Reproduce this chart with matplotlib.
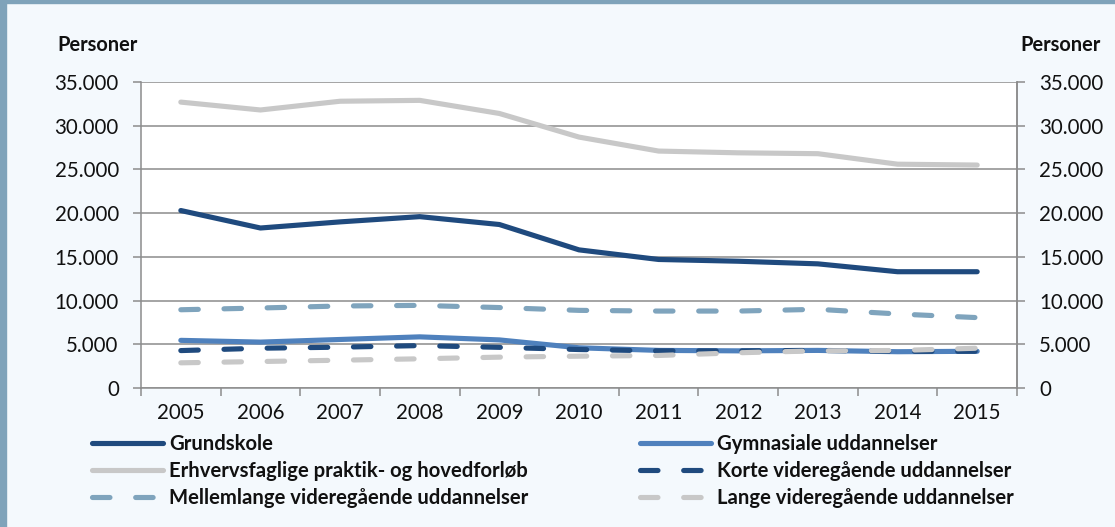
import matplotlib
matplotlib.use("Agg")
import matplotlib.pyplot as plt
from matplotlib.ticker import FuncFormatter, FixedLocator, NullFormatter
from matplotlib.patches import Rectangle

plt.rcParams['font.family'] = ['Lato', 'DejaVu Sans']

years = ['2005', '2006', '2007', '2008', '2009', '2010', '2011', '2012', '2013', '2014', '2015']
grundskole = [20300, 18300, 19000, 19600, 18700, 15800, 14700, 14500, 14200, 13300, 13300]
gymnasiale = [5450, 5250, 5550, 5850, 5500, 4600, 4300, 4250, 4300, 4150, 4200]
erhverv = [32700, 31800, 32800, 32900, 31400, 28700, 27100, 26900, 26800, 25600, 25500]
korte = [4280, 4550, 4670, 4850, 4650, 4400, 4250, 4250, 4300, 4200, 4200]
mellemlange = [8950, 9150, 9380, 9450, 9200, 8880, 8800, 8800, 9000, 8470, 8050]
lange = [2880, 3030, 3180, 3340, 3530, 3640, 3720, 4030, 4250, 4290, 4550]
labels = ['Grundskole', 'Gymnasiale uddannelser', 'Erhvervsfaglige praktik- og hovedforløb',
          'Korte videregående uddannelser', 'Mellemlange videregående uddannelser',
          'Lange videregående uddannelser']
yticks = [0, 5000, 10000, 15000, 20000, 25000, 30000, 35000]

W, H = 1115, 527
fig = plt.figure(figsize=(W / 100, H / 100), dpi=100)
fig.patch.set_facecolor('#f4f9fd')
renderer = fig.canvas.get_renderer()


def fit_size(s, target_px, weight='normal', base=12.0):
    t = fig.text(0, 0, s, fontsize=base, fontweight=weight)
    w = t.get_window_extent(renderer).width
    t.remove()
    return base * target_px / w


tfs = fit_size('2009', 47.5)
pfs = fit_size('Personer', 80, 'bold')
fs = fit_size(labels[2], 356, 'bold')

# border bands (top and left)
fig.patches.append(Rectangle((0, 1 - 3 / H), 1, 3 / H, transform=fig.transFigure,
                             color='#7fa3ba', zorder=0))
fig.patches.append(Rectangle((0, 0), 6 / W, 1, transform=fig.transFigure,
                             color='#7fa3ba', zorder=0))

ax = fig.add_axes([141 / W, (H - 388) / H, 876 / W, 306 / H])
ax.set_facecolor('white')

c_navy = '#1f4a7e'
c_blue = '#4f81bd'
c_gray = '#c8c8c8'
c_steel = '#7fa4bd'
lw = 3.7
dash = (3.4, 5.0)
x = list(range(len(years)))

l1, = ax.plot(x, grundskole, color=c_navy, lw=lw, solid_capstyle='round', solid_joinstyle='round', zorder=3)
l2, = ax.plot(x, gymnasiale, color=c_blue, lw=lw, solid_capstyle='round', solid_joinstyle='round', zorder=3)
l3, = ax.plot(x, erhverv, color=c_gray, lw=lw, solid_capstyle='round', solid_joinstyle='round', zorder=3)
l4, = ax.plot(x, korte, color=c_navy, lw=lw, dashes=dash, dash_capstyle='round', zorder=3)
l5, = ax.plot(x, mellemlange, color=c_steel, lw=lw, dashes=dash, dash_capstyle='round', zorder=3)
l6, = ax.plot(x, lange, color=c_gray, lw=lw, dashes=dash, dash_capstyle='round', zorder=3)

ax.set_xlim(-0.5, len(years) - 0.5)
ax.set_ylim(0, 35000)

fmt = FuncFormatter(lambda v, p: f"{int(v):,}".replace(',', '.'))
grid_c = '#8c8c8c'
ax.set_yticks(yticks)
ax.yaxis.set_major_formatter(fmt)
ax.grid(axis='y', color=grid_c, lw=1.1, zorder=1)
ax.set_axisbelow(True)

ax.xaxis.set_major_locator(FixedLocator([i - 0.5 for i in range(len(years) + 1)]))
ax.xaxis.set_major_formatter(NullFormatter())
ax.xaxis.set_minor_locator(FixedLocator(x))
ax.set_xticklabels(years, minor=True)
ax.tick_params(axis='x', which='major', length=6, width=1.1, color=grid_c, direction='out')
ax.tick_params(axis='x', which='minor', length=0, pad=11, labelsize=tfs, labelcolor='#111111')
ax.tick_params(axis='y', length=6, width=1.1, color=grid_c, labelsize=tfs, labelcolor='#111111', pad=10)

for s in ['left', 'right', 'bottom']:
    ax.spines[s].set_color(grid_c)
    ax.spines[s].set_linewidth(1.1)
ax.spines['top'].set_visible(False)

ax2 = ax.twinx()
ax2.set_ylim(0, 35000)
ax2.set_yticks(yticks)
ax2.yaxis.set_major_formatter(fmt)
ax2.tick_params(axis='y', length=6, width=1.1, color=grid_c, labelsize=tfs, labelcolor='#111111', pad=10)
for s in ['left', 'right', 'bottom', 'top']:
    ax2.spines[s].set_visible(False)
ax2.spines['right'].set_visible(True)
ax2.spines['right'].set_color(grid_c)
ax2.spines['right'].set_linewidth(1.1)

fig.text(57 / W, 1 - 45 / H, 'Personer', ha='left', va='center', fontsize=pfs, fontweight='bold', color='#111111')
fig.text(1020 / W, 1 - 45 / H, 'Personer', ha='left', va='center', fontsize=pfs, fontweight='bold', color='#111111')

# legend geometry: rows centred at y=444, 471, 498 px, handle 71 px, text at +6 px
fs_px = fs * 100 / 72
tmp = fig.text(0, 0, labels[2], fontsize=fs, fontweight='bold')
th = tmp.get_window_extent(renderer).height
tmp.remove()
row_gap = 27.0
legkw = dict(frameon=False, handlelength=71 / fs_px, handletextpad=6 / fs_px,
             labelspacing=(row_gap - th) / fs_px, borderpad=0, borderaxespad=0,
             prop={'weight': 'bold', 'size': fs})
top = 444 - th / 2
leg1 = fig.legend([l1, l3, l5], [labels[0], labels[2], labels[4]], loc='upper left',
                  bbox_to_anchor=(92 / W, 1 - top / H), **legkw)
leg2 = fig.legend([l2, l4, l6], [labels[1], labels[3], labels[5]], loc='upper left',
                  bbox_to_anchor=(640 / W, 1 - top / H), **legkw)
for lg in (leg1, leg2):
    for t in lg.get_texts():
        t.set_color('#111111')

fig.savefig('out.png', dpi=100, facecolor=fig.get_facecolor())
